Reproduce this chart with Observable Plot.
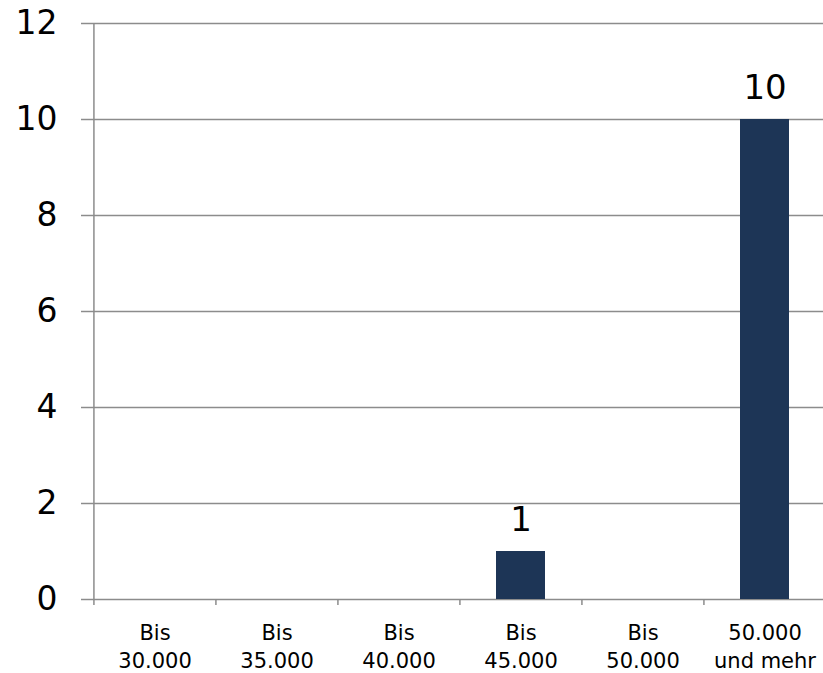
<!DOCTYPE html>
<html>
<head>
<meta charset="utf-8">
<script src="https://cdn.jsdelivr.net/npm/d3@7"></script>
<script src="https://cdn.jsdelivr.net/npm/@observablehq/plot@0.6"></script>
<style>
  html, body { margin: 0; padding: 0; background: #fff; overflow: hidden; }
  svg { display: block; }
</style>
</head>
<body>
<div id="chart"></div>
<script>
const categories = ["Bis\n30.000", "Bis\n35.000", "Bis\n40.000", "Bis\n45.000", "Bis\n50.000", "50.000\nund mehr"];
const values = [0, 0, 0, 1, 0, 10];
const yTicks = [0, 2, 4, 6, 8, 10, 12];

const data = categories.map((c, i) => ({category: c, value: values[i]}));
const shown = data.filter(d => d.value > 0);

const W = 823, H = 673, mL = 93, mR = -3, mT = 23, mB = 74;
const step = (W - mL - mR) / categories.length;
const gridColor = "#8c8c8c";
const font = "DejaVu Sans, Verdana, sans-serif";

const chart = Plot.plot({
  width: W,
  height: H,
  marginLeft: mL,
  marginRight: mR,
  marginTop: mT,
  marginBottom: mB,
  style: {fontFamily: font, background: "#fff", overflow: "hidden"},
  x: {domain: categories, paddingInner: 0.6, paddingOuter: 0.3, align: 0.5},
  y: {domain: [0, 12]},
  marks: [
    // horizontal gridlines
    Plot.ruleY(yTicks, {stroke: gridColor, strokeWidth: 1.5}),
    // y axis
    Plot.axisY({ticks: yTicks, tickSize: 12, tickPadding: 24, stroke: gridColor, strokeWidth: 1.5, strokeOpacity: 1, fontSize: 33, fill: "#000", label: null, tickFormat: d => String(d)}),
    // vertical axis line
    Plot.ruleX([categories[0]], {dx: -step / 2, y1: -0.125, y2: 12, stroke: gridColor, strokeWidth: 1.5}),
    // category boundary ticks
    Plot.ruleX(categories.slice(1), {dx: -step / 2, y1: 0, y2: -0.125, stroke: gridColor, strokeWidth: 1.5}),
    // bars
    Plot.barY(shown, {x: "category", y: "value", fill: "#1d3556"}),
    // value labels
    Plot.text(shown, {x: "category", y: "value", text: d => String(d.value), dy: -31, fontSize: 34, fill: "#000"}),
    // x axis labels
    Plot.axisX({tickSize: 0, tickPadding: 20, fontSize: 21, fill: "#000", label: null, lineHeight: 1.35})
  ]
});

document.getElementById("chart").appendChild(chart);
</script>
</body>
</html>
